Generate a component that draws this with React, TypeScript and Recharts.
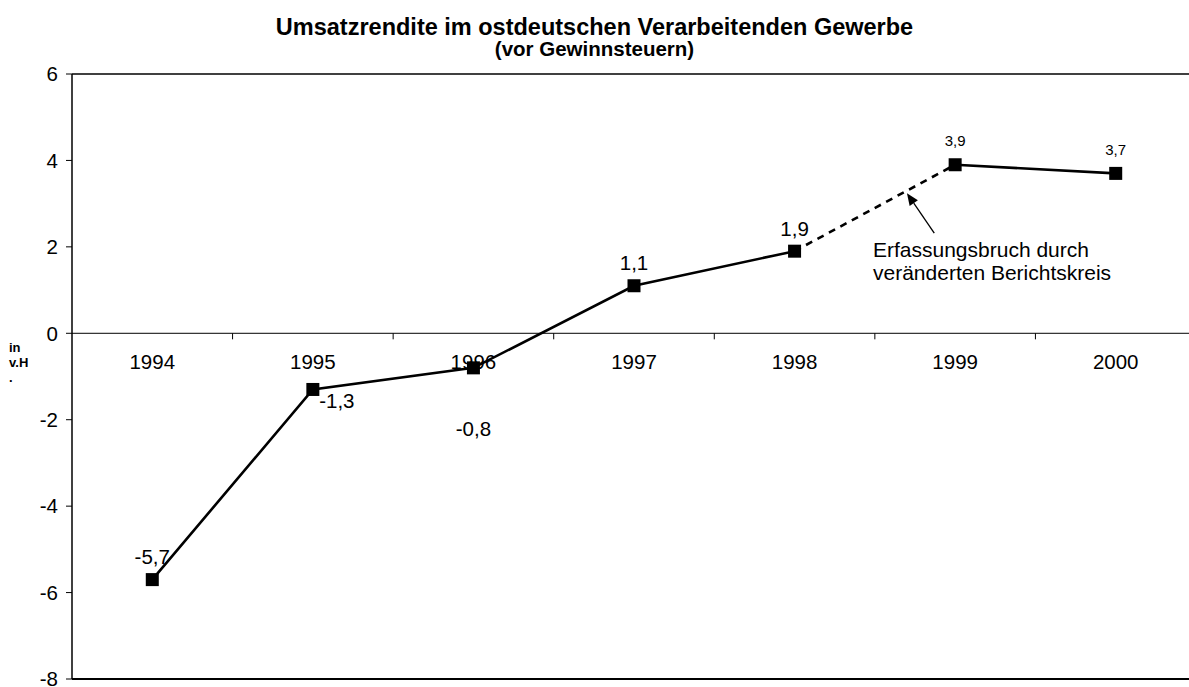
import { LineChart, Line, XAxis, YAxis, ReferenceLine, LabelList } from 'recharts'

const years = ['1994', '1995', '1996', '1997', '1998', '1999', '2000']
const values = [-5.7, -1.3, -0.8, 1.1, 1.9, 3.9, 3.7]
const valueLabels = ['-5,7', '-1,3', '-0,8', '1,1', '1,9', '3,9', '3,7']
const yTicks = [-8, -6, -4, -2, 0, 2, 4, 6]
// index of the last point before the break in the reporting group
const breakAt = 4

// where each value label sits relative to its point
const labelPlacement: Record<string, { dx: number; dy: number; size: number }> = {
  above: { dx: 0, dy: -23, size: 20.5 },
  belowRight: { dx: 24, dy: 11, size: 20.5 },
  below: { dx: 0, dy: 61, size: 20.5 },
  small: { dx: 0, dy: -24, size: 15 },
}
const placements = ['above', 'belowRight', 'below', 'above', 'above', 'small', 'small']

const FONT = '"Liberation Sans", Arial, sans-serif'

const data = years.map((year, i) => ({
  x: i + 0.5,
  year,
  zero: 0,
  value: values[i],
  before: i <= breakAt ? values[i] : null,
  gap: i === breakAt || i === breakAt + 1 ? values[i] : null,
  after: i > breakAt ? values[i] : null,
}))

const SquareDot = (props: any) => {
  const { cx, cy, index } = props
  if (cx == null || cy == null) return null
  return <rect key={index} x={cx - 6.5} y={cy - 6.5} width={13} height={13} fill="#000" />
}

const ValueLabel = (props: any) => {
  const { x, y, index } = props
  const p = labelPlacement[placements[index]]
  return (
    <text x={x + p.dx} y={y + p.dy} dy="0.36em" textAnchor="middle"
      fontSize={p.size} fontFamily={FONT} fill="#000">
      {valueLabels[index]}
    </text>
  )
}

const Arrow = (props: any) => {
  const { x1, y1, x2, y2 } = props
  const ang = Math.atan2(y2 - y1, x2 - x1)
  const len = 12, w = 5
  const bx = x2 - len * Math.cos(ang), by = y2 - len * Math.sin(ang)
  const px = -Math.sin(ang) * w, py = Math.cos(ang) * w
  return (
    <g>
      <line x1={x1} y1={y1} x2={bx} y2={by} stroke="#000" strokeWidth={1.3} />
      <polygon points={`${x2},${y2} ${bx + px},${by + py} ${bx - px},${by - py}`} fill="#000" />
    </g>
  )
}

export default function App() {
  return (
    <div style={{ position: 'absolute', left: 0, top: 0, width: 1189, height: 687, overflow: 'hidden', background: '#fff', fontFamily: FONT }}>
      <div style={{ position: 'absolute', left: 0, top: 15, width: 1189, textAlign: 'center', fontWeight: 'bold', fontSize: 23.5, lineHeight: '24px' }}>
        Umsatzrendite im ostdeutschen Verarbeitenden Gewerbe
      </div>
      <div style={{ position: 'absolute', left: 0, top: 39, width: 1189, textAlign: 'center', fontWeight: 'bold', fontSize: 20.5, lineHeight: '20px' }}>
        (vor Gewinnsteuern)
      </div>
      <div style={{ position: 'absolute', left: 9, top: 340, fontWeight: 'bold', fontSize: 13, lineHeight: '15px' }}>
        in<br />v.H<br />.
      </div>
      <div style={{ position: 'absolute', left: 873, top: 238, fontSize: 21, lineHeight: '23px' }}>
        Erfassungsbruch durch<br />veränderten Berichtskreis
      </div>
      <div style={{ position: 'absolute', left: 0, top: 0 }}>
        <LineChart width={1220} height={687} data={data} margin={{ top: 74, right: 24, bottom: 8, left: 0 }}>
          <XAxis type="number" dataKey="x" domain={[0, 7]} hide />
          <YAxis type="number" domain={[-8, 6]} ticks={yTicks} width={72} interval={0}
            axisLine={{ stroke: '#000', strokeWidth: 1.5 }} tickLine={{ stroke: '#000' }} tickSize={6} tickMargin={8}
            tick={{ fill: '#000', fontSize: 20.5, fontFamily: FONT }} />
          <ReferenceLine y={6} stroke="#000" strokeWidth={1.5} />
          <ReferenceLine y={-8} stroke="#000" strokeWidth={2} />
          <ReferenceLine y={0} stroke="#000" strokeWidth={1} />
          {years.slice(1).map((_, i) => (
            <ReferenceLine key={i} segment={[{ x: i + 1, y: 0 }, { x: i + 1, y: -0.14 }]} stroke="#000" />
          ))}
          <ReferenceLine segment={[{ x: 5.37, y: 2.32 }, { x: 5.2, y: 3.24 }]} shape={Arrow} />
          <Line dataKey="zero" stroke="none" dot={false} activeDot={false} isAnimationActive={false}>
            <LabelList dataKey="year" position="bottom" offset={21} fill="#000" fontSize={20.5} fontFamily={FONT} />
          </Line>
          <Line dataKey="before" stroke="#000" strokeWidth={2.6} dot={false} connectNulls={false} isAnimationActive={false} />
          <Line dataKey="gap" stroke="#000" strokeWidth={2.6} strokeDasharray="7 6" dot={false} isAnimationActive={false} />
          <Line dataKey="after" stroke="#000" strokeWidth={2.6} dot={false} isAnimationActive={false} />
          <Line dataKey="value" stroke="none" dot={<SquareDot />} activeDot={false} isAnimationActive={false}>
            <LabelList dataKey="value" content={<ValueLabel />} />
          </Line>
        </LineChart>
      </div>
    </div>
  )
}
